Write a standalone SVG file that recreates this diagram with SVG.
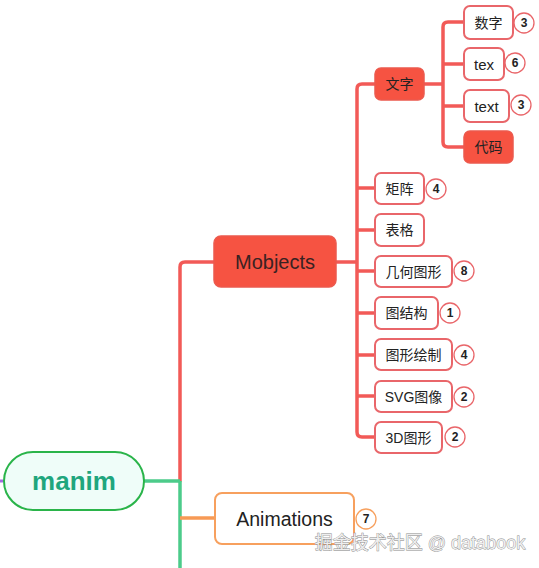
<svg xmlns="http://www.w3.org/2000/svg" width="539" height="568" viewBox="0 0 539 568">
<style>
text{font-family:"Liberation Sans","Noto Sans CJK SC",sans-serif;text-anchor:middle;dominant-baseline:central}
.red{fill:none;stroke:#F25A57;stroke-width:3.5;stroke-linecap:round}
.box{fill:#fff;stroke:#E9666A;stroke-width:2}
.fill{fill:#F65342;stroke:#EC5A4E;stroke-width:1.5}
.t{font-size:14px;fill:#222}
.l{font-size:15px}
.badge{fill:#fff;stroke:#E9666A;stroke-width:1.3}
.bt{font-size:12px;font-weight:bold;fill:#222}
</style>
<rect width="539" height="568" fill="#fff"/>
<g id="connectors">
<path d="M0 481 H3" stroke="#A46BE0" stroke-width="3" fill="none"/>
<path class="red" d="M214 262 H185 Q180 262 180 267 V481"/>
<path d="M144 481 H180 M180 481 V568" fill="none" stroke="#4CCB8A" stroke-width="3.5"/>
<path d="M180 518 H215" fill="none" stroke="#F79A55" stroke-width="3.5"/>
<path class="red" d="M336 262 H357 M375 84 H362 Q357 84 357 89 V432 Q357 437 362 437 H375 M357 188 H375 M357 230 H375 M357 271 H375 M357 313 H375 M357 355 H375 M357 396 H375"/>
<path class="red" d="M424 84 H443 M464 22 H448 Q443 22 443 27 V142 Q443 147 448 147 H464 M443 64 H464 M443 106 H464"/>
</g>
<g id="manim">
<rect x="4" y="452" width="140" height="58" rx="29" fill="#EFFDF9" stroke="#2AB44A" stroke-width="2"/>
<text x="74" y="481" font-size="26" font-weight="bold" fill="#1FA67E">manim</text>
</g>
<g id="mobjects">
<rect x="214" y="236" width="122" height="51" rx="7" class="fill"/>
<text x="275" y="261.5" font-size="20" fill="#3a2222">Mobjects</text>
</g>
<g id="animations">
<rect x="215" y="493" width="139" height="51" rx="7" fill="#fff" stroke="#F7A05E" stroke-width="2"/>
<text x="284.5" y="518.5" font-size="19.5" fill="#222">Animations</text>
<circle cx="366" cy="519" r="10" fill="#fff" stroke="#F7A05E" stroke-width="1.3"/>
<text x="366" y="519" class="bt">7</text>
</g>
<g id="wenzi">
<rect x="375" y="68" width="49" height="32" rx="6" class="fill"/>
<text x="399.5" y="84" class="t">文字</text>
</g>
<g id="shuzi">
<rect x="464" y="6" width="49" height="33" rx="6" class="box"/>
<text x="488.5" y="22.5" class="t">数字</text>
<circle cx="524" cy="23" r="10" class="badge"/><text x="524" y="23" class="bt">3</text>
</g>
<g id="tex">
<rect x="464" y="48" width="40" height="32" rx="6" class="box"/>
<text x="484" y="64" class="t l">tex</text>
<circle cx="515" cy="63" r="10" class="badge"/><text x="515" y="63" class="bt">6</text>
</g>
<g id="text">
<rect x="464" y="90" width="45" height="32" rx="6" class="box"/>
<text x="486.5" y="106" class="t l">text</text>
<circle cx="521" cy="105" r="10" class="badge"/><text x="521" y="105" class="bt">3</text>
</g>
<g id="daima">
<rect x="464" y="131" width="49" height="32" rx="6" class="fill"/>
<text x="488.5" y="147" class="t">代码</text>
</g>
<g id="juzhen">
<rect x="375" y="173" width="49" height="31" rx="6" class="box"/>
<text x="399.5" y="188.5" class="t">矩阵</text>
<circle cx="436" cy="189" r="10" class="badge"/><text x="436" y="189" class="bt">4</text>
</g>
<g id="biaoge">
<rect x="375" y="214" width="49" height="32" rx="6" class="box"/>
<text x="399.5" y="230" class="t">表格</text>
</g>
<g id="jihe">
<rect x="375" y="256" width="77" height="31" rx="6" class="box"/>
<text x="413.5" y="271.5" class="t">几何图形</text>
<circle cx="464" cy="271" r="10" class="badge"/><text x="464" y="271" class="bt">8</text>
</g>
<g id="tujiegou">
<rect x="375" y="297" width="63" height="32" rx="6" class="box"/>
<text x="406.5" y="313" class="t">图结构</text>
<circle cx="450" cy="313" r="10" class="badge"/><text x="450" y="313" class="bt">1</text>
</g>
<g id="huizhi">
<rect x="375" y="339" width="77" height="31" rx="6" class="box"/>
<text x="413.5" y="354.5" class="t">图形绘制</text>
<circle cx="464" cy="355" r="10" class="badge"/><text x="464" y="355" class="bt">4</text>
</g>
<g id="svg">
<rect x="375" y="381" width="77" height="31" rx="6" class="box"/>
<text x="413.5" y="396.5" class="t">SVG图像</text>
<circle cx="464" cy="397" r="10" class="badge"/><text x="464" y="397" class="bt">2</text>
</g>
<g id="3d">
<rect x="375" y="422" width="67" height="31" rx="6" class="box"/>
<text x="408.5" y="437.5" class="t">3D图形</text>
<circle cx="455" cy="437" r="10" class="badge"/><text x="455" y="437" class="bt">2</text>
</g>
<text x="420" y="543" font-size="18" fill="#eeeeee" stroke="#8a8a8a" stroke-width="0.8" paint-order="stroke">掘金技术社区 @ databook</text>
</svg>
